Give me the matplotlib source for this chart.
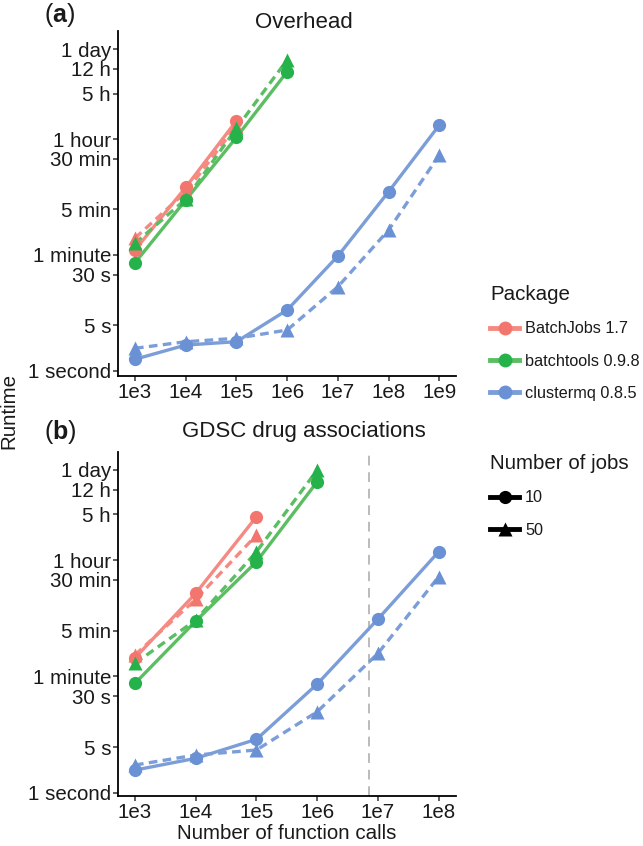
import matplotlib
matplotlib.use("Agg")
import matplotlib.pyplot as plt
from matplotlib.lines import Line2D

plt.rcParams['font.family'] = ['Liberation Sans', 'DejaVu Sans']
plt.rcParams['mathtext.fontset'] = 'custom'
plt.rcParams['mathtext.bf'] = 'Liberation Sans:bold'
plt.rcParams['mathtext.rm'] = 'Liberation Sans'

# ---------------- data ----------------
packages = ["BatchJobs 1.7", "batchtools 0.9.8", "clustermq 0.8.5"]
jobs = ["10", "50"]

ytick_vals = [1, 5, 30, 60, 300, 1800, 3600, 18000, 43200, 86400]
ytick_labels = ["1 second", "5 s", "30 s", "1 minute", "5 min", "30 min",
                "1 hour", "5 h", "12 h", "1 day"]

# Panel (a): Overhead
a_x_ticks = [1e3, 1e4, 1e5, 1e6, 1e7, 1e8, 1e9]
a_x_labels = ["1e3", "1e4", "1e5", "1e6", "1e7", "1e8", "1e9"]
a_batchjobs_x = [1e3, 1e4, 1e5]
a_batchjobs_10 = [71.5, 656, 6920]
a_batchjobs_50 = [109, 556, 5800]
a_batchtools_x = [1e3, 1e4, 1e5, 1e6]
a_batchtools_10 = [45.6, 419, 3850, 39200]
a_batchtools_50 = [90.6, 430, 5290, 59300]
a_clustermq_x = [1e3, 1e4, 1e5, 1e6, 1e7, 1e8, 1e9]
a_clustermq_10 = [1.50, 2.48, 2.79, 8.56, 57.8, 562, 5940]
a_clustermq_50 = [2.21, 2.79, 3.15, 4.22, 19.5, 145, 2060]

# Panel (b): GDSC drug associations
b_x_ticks = [1e3, 1e4, 1e5, 1e6, 1e7, 1e8]
b_x_labels = ["1e3", "1e4", "1e5", "1e6", "1e7", "1e8"]
b_batchjobs_x = [1e3, 1e4, 1e5]
b_batchjobs_10 = [115, 1120, 16600]
b_batchjobs_50 = [128, 906, 8710]
b_batchtools_x = [1e3, 1e4, 1e5, 1e6]
b_batchtools_10 = [47.1, 422, 3400, 56900]
b_batchtools_50 = [95.2, 437, 4840, 85900]
b_clustermq_x = [1e3, 1e4, 1e5, 1e6, 1e7, 1e8]
b_clustermq_10 = [2.22, 3.36, 6.56, 45.9, 453, 4840]
b_clustermq_50 = [2.65, 3.77, 4.50, 17.3, 135, 2010]
b_vline = 7.2e6

# ---------------- style ----------------
pt_colors = ["#F3766E", "#26B24A", "#6B91D5"]
line_colors = ["#F58A82", "#5BBE63", "#7C9ED8"]
markers = {"10": "o", "50": "^"}
msize = {"10": 9.5, "50": 10.5}
styles = {"10": "-", "50": (0, (2.6, 1.6))}
TXT = "#1a1a1a"

fig = plt.figure(figsize=(6.43, 8.46), dpi=100)
W, H = 643.0, 846.0


def ax_rect(left, right, top, bottom):
    return [left / W, 1 - bottom / H, (right - left) / W, (bottom - top) / H]


ax_a = fig.add_axes(ax_rect(117.7, 456, 30.7, 376))
ax_b = fig.add_axes(ax_rect(117.7, 456, 451.7, 796))


def draw(ax, series, xticks, xlabels, xlim, ylim):
    # lines first
    for pi, (x, y10, y50) in enumerate(series):
        for j, y in (("10", y10), ("50", y50)):
            ax.plot(x, y, color=line_colors[pi], lw=2.4, ls=styles[j],
                    solid_capstyle="butt", dash_capstyle="butt", zorder=2)
    for pi, (x, y10, y50) in enumerate(series):
        for j, y in (("10", y10), ("50", y50)):
            ax.plot(x, y, ls="none", marker=markers[j], ms=msize[j],
                    color=pt_colors[pi], mec="none", zorder=3)
    ax.set_xscale("log")
    ax.set_yscale("log")
    ax.set_xlim(*xlim)
    ax.set_ylim(*ylim)
    ax.set_xticks(xticks)
    ax.set_xticklabels(xlabels)
    ax.set_yticks(ytick_vals)
    ax.set_yticklabels(ytick_labels)
    ax.minorticks_off()
    for s in ("top", "right"):
        ax.spines[s].set_visible(False)
    for s in ("left", "bottom"):
        ax.spines[s].set_linewidth(1.3)
        ax.spines[s].set_color("black")
    ax.tick_params(axis="both", direction="out", length=3.3, width=1.1,
                   color="#333333", labelsize=14.8, labelcolor=TXT, pad=2)
    ax.tick_params(axis="y", pad=1.5)
    ax.set_facecolor("white")


draw(ax_a,
     [(a_batchjobs_x, a_batchjobs_10, a_batchjobs_50),
      (a_batchtools_x, a_batchtools_10, a_batchtools_50),
      (a_clustermq_x, a_clustermq_10, a_clustermq_50)],
     a_x_ticks, a_x_labels, (10 ** 2.659, 10 ** 9.329), (10 ** -0.081, 10 ** 5.223))

draw(ax_b,
     [(b_batchjobs_x, b_batchjobs_10, b_batchjobs_50),
      (b_batchtools_x, b_batchtools_10, b_batchtools_50),
      (b_clustermq_x, b_clustermq_10, b_clustermq_50)],
     b_x_ticks, b_x_labels, (10 ** 2.715, 10 ** 8.285), (10 ** -0.050, 10 ** 5.214))
ax_b.axvline(b_vline, color="#BBBBBB", lw=1.4, ls=(0, (5, 3.5)), zorder=1)

# titles and panel labels
fig.text(304 / W, 1 - 22.7 / H, "Overhead", ha="center", va="center",
         fontsize=16, color=TXT)
fig.text(304 / W, 1 - 431.7 / H, "GDSC drug associations", ha="center",
         va="center", fontsize=16, color=TXT)
fig.text(60 / W, 1 - 15 / H, r"($\mathbf{a}$)", ha="center", va="center",
         fontsize=18, color=TXT)
fig.text(60 / W, 1 - 431.7 / H, r"($\mathbf{b}$)", ha="center", va="center",
         fontsize=18, color=TXT)
fig.text(9 / W, 1 - 411 / H, "Runtime", rotation=90, ha="center",
         va="center", fontsize=14.8, color=TXT)
fig.text(287 / W, 1 - 833 / H, "Number of function calls", ha="center",
         va="center", fontsize=14.8, color=TXT)

# legends
pkg_handles = [Line2D([], [], color=line_colors[i], lw=3.5, marker="o",
                      ms=10, mfc=pt_colors[i], mec="none")
               for i in range(3)]
leg1 = fig.legend(pkg_handles, packages, title="Package",
                  loc="upper left", bbox_to_anchor=(482 / W, 1 - 277 / H),
                  frameon=False, fontsize=11.7, title_fontsize=14.8,
                  handlelength=1.8, handletextpad=0.35, labelspacing=1.06,
                  borderpad=0, alignment="left")
for t in leg1.get_texts():
    t.set_color(TXT)
leg1.get_title().set_color(TXT)

job_handles = [Line2D([], [], color="black", lw=3.5, marker=markers[j],
                      ms=msize[j], mec="none") for j in jobs]
leg2 = fig.legend(job_handles, jobs, title="Number of jobs",
                  loc="upper left", bbox_to_anchor=(482 / W, 1 - 446 / H),
                  frameon=False, fontsize=11.7, title_fontsize=14.8,
                  handlelength=1.8, handletextpad=0.35, labelspacing=1.06,
                  borderpad=0, alignment="left")
for t in leg2.get_texts():
    t.set_color(TXT)
leg2.get_title().set_color(TXT)

fig.savefig("out.png", dpi=100, facecolor="white")
